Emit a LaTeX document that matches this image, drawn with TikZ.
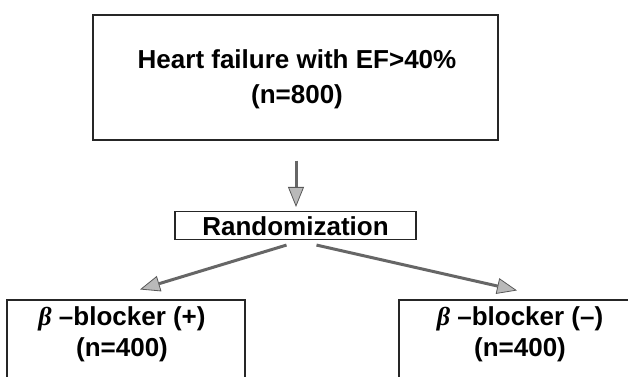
\documentclass[tikz,border=0pt]{standalone}
\usepackage{fontspec}
\setmainfont{Liberation Sans}
\newfontfamily\betafont{Liberation Serif}
\usetikzlibrary{arrows.meta,calc}
\begin{document}
\begin{tikzpicture}[x=1pt,y=-1pt,
  box/.style={draw=black!85,line width=1.1pt,inner sep=0pt,align=center},
  txt/.style={inner sep=0pt,align=center,font=\bfseries\fontsize{26}{35}\selectfont},
  arr/.style={draw=black!60,line width=3pt,
    -{Triangle[length=20pt,width=16pt,fill=gray!55,color=black!65,line width=0.8pt]}}
]
\useasboundingbox (0,0) rectangle (628,376);
\clip (0,0) rectangle (628,376);
\node[box,minimum width=405pt,minimum height=125pt] (top) at (295.5,77.5) {};
\node[txt] (toptxt) at (297,79) {Heart failure with EF>40\%\\(n=800)};
\node[box,minimum width=241pt,minimum height=28pt] (rand) at (295.5,225.5) {};
\node[txt] (randtxt) at (295.5,226) {Randomization};
\node[box,minimum width=238pt,minimum height=120pt] (lb) at (126,360) {};
\node[txt,font=\bfseries\fontsize{26}{31}\selectfont] (lbt) at (122,334) {{\betafont\itshape β} –blocker (+)\\(n=400)};
\node[box,minimum width=240pt,minimum height=120pt] (rb) at (519,360) {};
\node[txt,font=\bfseries\fontsize{26}{31}\selectfont] (rbt) at (520,334) {{\betafont\itshape β} –blocker (–)\\(n=400)};
\draw[arr] ($(top.south)+(0.5,20)$) -- ($(rand.north)+(0.5,-4)$);
\draw[arr] ($(rand.south)+(-9,5)$) -- ($(lb.north)+(14,-10)$);
\draw[arr] ($(rand.south)+(21,5)$) -- ($(rb.north)+(-2,-9)$);
\end{tikzpicture}
\end{document}
